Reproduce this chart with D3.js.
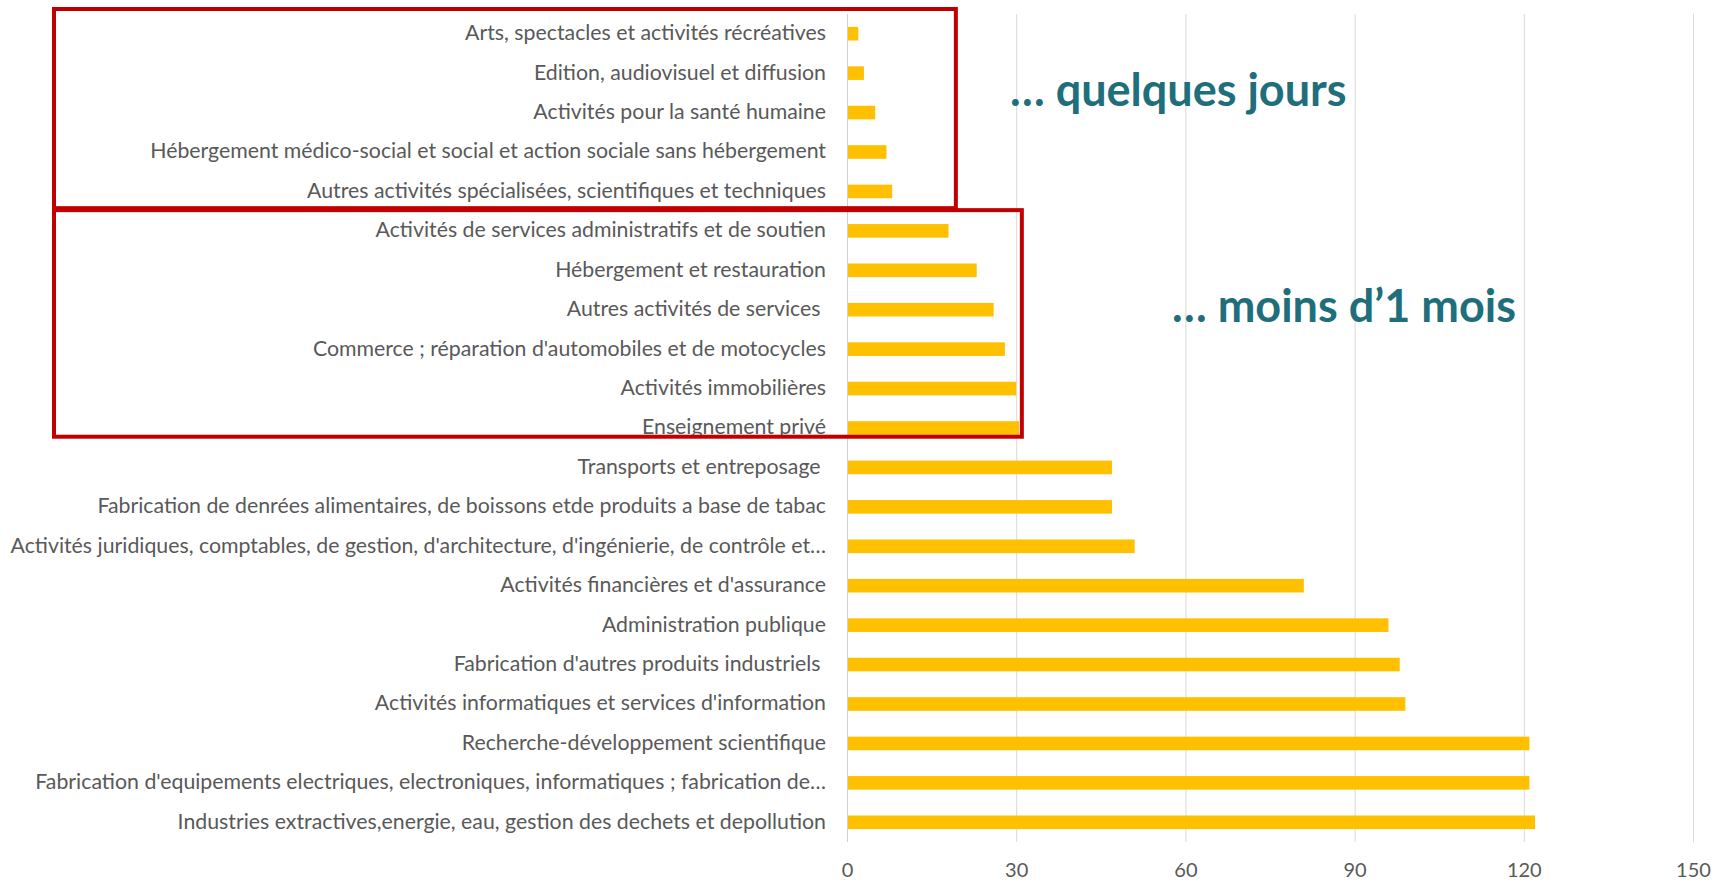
<!DOCTYPE html>
<html lang="fr">
<head>
<meta charset="utf-8">
<script src="https://cdn.jsdelivr.net/npm/d3@7"></script>
<style>
  body { margin: 0; background: #ffffff; }
  .etiquette { font-family: "Lato", sans-serif; font-size: 21.3px; fill: #595959; white-space: pre; }
  .graduation { font-family: "Lato", sans-serif; font-size: 20px; fill: #595959; }
  .annotation { font-family: "Lato", "Open Sans", sans-serif; font-weight: bold; font-size: 45px; fill: #1F6E7C; }
</style>
</head>
<body>
<svg width="1723" height="895"></svg>
<script>
// secteurs, du haut vers le bas
const secteurs = [
  "Arts, spectacles et activités récréatives",
  "Edition, audiovisuel et diffusion",
  "Activités pour la santé humaine",
  "Hébergement médico-social et social et action sociale sans hébergement",
  "Autres activités spécialisées, scientifiques et techniques",
  "Activités de services administratifs et de soutien",
  "Hébergement et restauration",
  "Autres activités de services ",
  "Commerce ; réparation d'automobiles et de motocycles",
  "Activités immobilières",
  "Enseignement privé",
  "Transports et entreposage ",
  "Fabrication de denrées alimentaires, de boissons etde produits a base de tabac",
  "Activités juridiques, comptables, de gestion, d'architecture, d'ingénierie, de contrôle et…",
  "Activités financières et d'assurance",
  "Administration publique",
  "Fabrication d'autres produits industriels ",
  "Activités informatiques et services d'information",
  "Recherche-développement scientifique",
  "Fabrication d'equipements electriques, electroniques, informatiques ; fabrication de…",
  "Industries extractives,energie, eau, gestion des dechets et depollution"
];

// valeurs
const valeurs = [2, 3, 5, 7, 8, 18, 23, 26, 28, 30, 30.5, 47, 47, 51, 81, 96, 98, 99, 121, 121, 122];

const graduations = [0, 30, 60, 90, 120, 150];

// annotations des deux groupes
const groupes = [
  {texte: "… quelques jours", debut: 0, fin: 5, limite: 19.3},
  {texte: "… moins d’1 mois", debut: 5, fin: 11, limite: 31}
];

const svg = d3.select("svg");

const haut = 14, bas = 842, gauche = 847, droite = 1693;

const x = d3.scaleLinear()
  .domain([0, 150])
  .range([gauche, droite]);

const y = d3.scaleBand()
  .domain(secteurs)
  .range([haut, bas])
  .paddingInner(0.655)
  .paddingOuter(0.3275);

// lignes de quadrillage verticales
svg.append("g")
  .attr("transform", `translate(0,${bas})`)
  .call(d3.axisBottom(x).tickValues(graduations).tickSize(-(bas - haut)).tickFormat(""))
  .call(g => g.select(".domain").remove())
  .call(g => g.selectAll("line").attr("stroke", "#D9D9D9").attr("stroke-width", 1));

// axe du bas (chiffres)
svg.append("g")
  .attr("transform", `translate(0,${bas})`)
  .call(d3.axisBottom(x).tickValues(graduations).tickSize(0).tickPadding(21))
  .call(g => g.select(".domain").remove())
  .call(g => g.selectAll("text").attr("class", "graduation").attr("font-family", null).attr("font-size", null));

// barres
svg.selectAll(".barre")
  .data(valeurs)
  .enter().append("rect")
  .attr("class", "barre")
  .attr("x", x(0))
  .attr("y", (d, i) => y(secteurs[i]))
  .attr("width", d => x(d) - x(0))
  .attr("height", y.bandwidth())
  .attr("fill", "#FFC000");

// axe vertical avec les secteurs
svg.append("g")
  .attr("transform", `translate(${gauche},0)`)
  .call(d3.axisLeft(y).tickSize(0).tickPadding(21))
  .call(g => g.select(".domain").attr("stroke", "#D0D0D0").attr("d", `M0.5,${haut}V${bas}`))
  .call(g => g.selectAll("text").attr("class", "etiquette").attr("font-family", null).attr("font-size", null).attr("dy", "0.3em"));

// cadres rouges
const hautBande = i => haut + i * y.step();

svg.append("rect")
  .attr("x", 54).attr("y", hautBande(0) - 5)
  .attr("width", x(groupes[0].limite) - 54)
  .attr("height", hautBande(groupes[0].fin) - 3 - (hautBande(0) - 5))
  .attr("fill", "none").attr("stroke", "#C00000").attr("stroke-width", 4);

svg.append("rect")
  .attr("x", 54).attr("y", hautBande(groupes[1].debut) - 1)
  .attr("width", x(groupes[1].limite) - 54)
  .attr("height", hautBande(groupes[1].fin) - 11 - (hautBande(groupes[1].debut) - 1))
  .attr("fill", "none").attr("stroke", "#C00000").attr("stroke-width", 4);

// textes d'annotation
svg.append("text")
  .attr("class", "annotation")
  .attr("x", 1010).attr("y", 106)
  .text(groupes[0].texte);

svg.append("text")
  .attr("class", "annotation")
  .attr("x", 1172).attr("y", 322)
  .text(groupes[1].texte);
</script>
</body>
</html>
